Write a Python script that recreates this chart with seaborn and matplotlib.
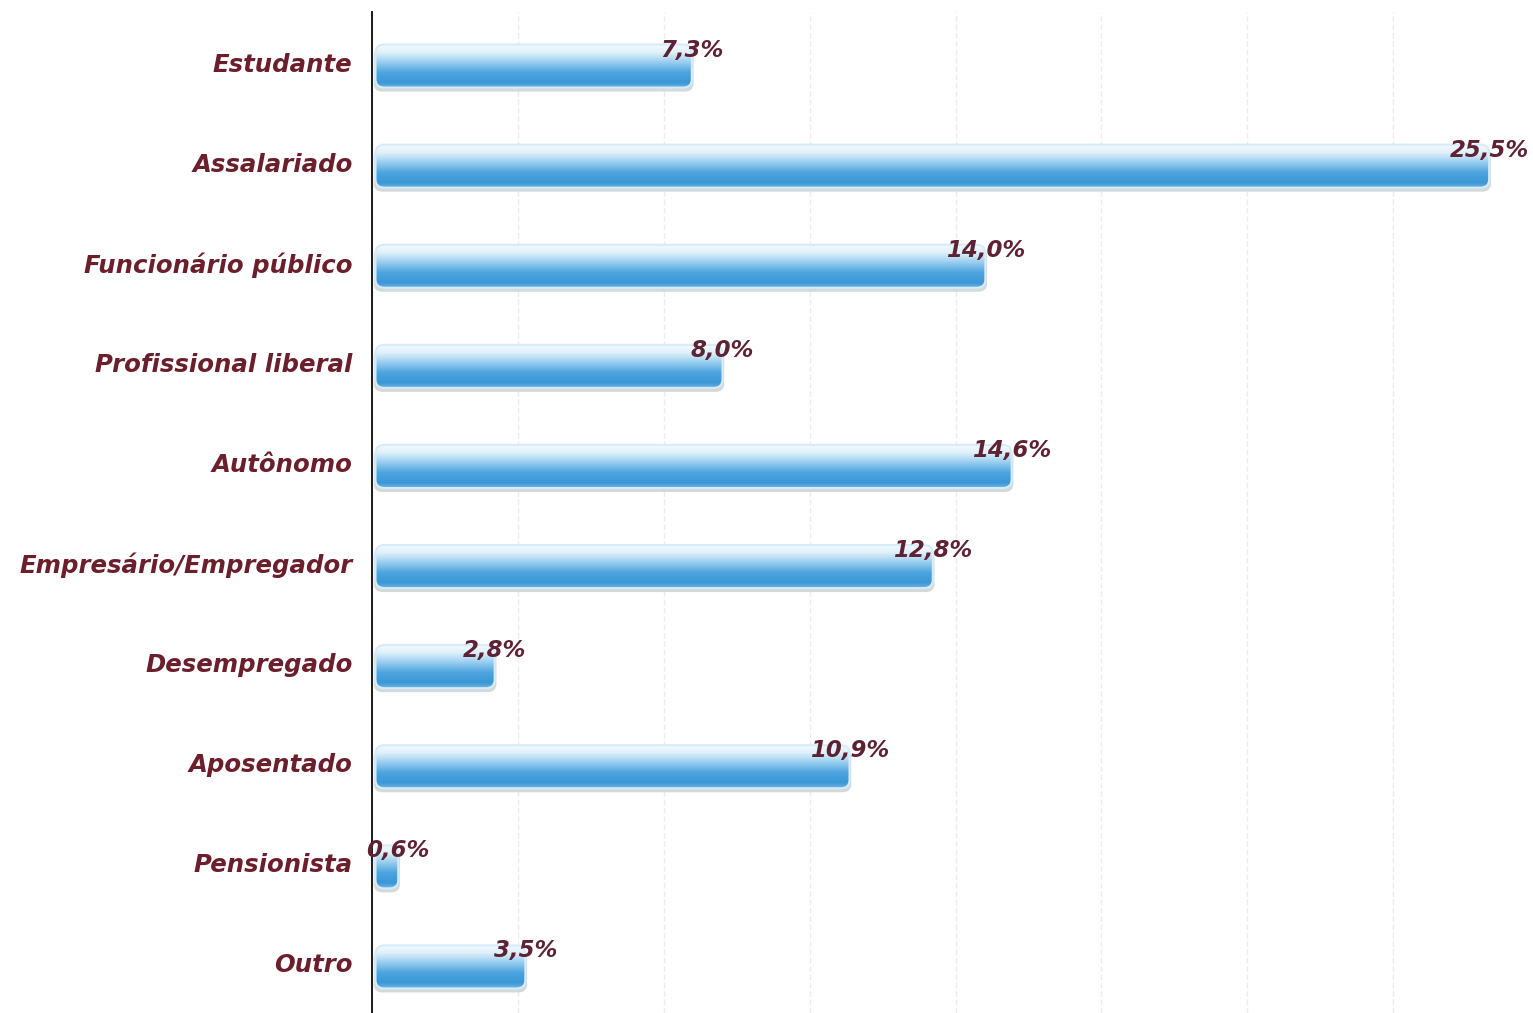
import numpy as np
import pandas as pd
import matplotlib
matplotlib.use("Agg")
import matplotlib.pyplot as plt
import seaborn as sb
from matplotlib.patches import FancyBboxPatch
from matplotlib.colors import LinearSegmentedColormap
from matplotlib.ticker import MultipleLocator, FixedLocator

categorias = ["Estudante", "Assalariado", "Funcionário público", "Profissional liberal",
              "Autônomo", "Empresário/Empregador", "Desempregado", "Aposentado",
              "Pensionista", "Outro"]
percentuais = [7.3, 25.5, 14.0, 8.0, 14.6, 12.8, 2.8, 10.9, 0.6, 3.5]
rotulos = ["7,3%", "25,5%", "14,0%", "8,0%", "14,6%", "12,8%", "2,8%", "10,9%", "0,6%", "3,5%"]

df = pd.DataFrame({"categoria": categorias, "pct": percentuais})

sb.set_style("white")
plt.rcParams['font.family'] = ['DejaVu Sans']

fig = plt.figure(figsize=(15.33, 10.13), dpi=100)
ax = fig.add_axes([372/1533, 0, 1 - 372/1533, 1 - 12/1013])

sb.barplot(data=df, x="pct", y="categoria", orient="h", width=0.43, color="#4aa3df", ax=ax)

# gradient for the bars: light top, blue body, slightly lighter bottom edge
grad = LinearSegmentedColormap.from_list("barra", [
    (0.0, "#f6fbfe"), (0.2, "#dff0fa"), (0.42, "#96cdef"),
    (0.65, "#4da4df"), (0.88, "#3b97d7"), (1.0, "#6fb5e5")])
img = np.linspace(0, 1, 256).reshape(-1, 1)

for p in list(ax.patches):
    x0, y0 = p.get_x(), p.get_y()
    w, h = p.get_width(), p.get_height()
    p.set_visible(False)
    yb = y0 + 0.04
    r = 0.2
    asp = 0.42
    # soft shadow
    sh = FancyBboxPatch((x0 + 0.04, yb + 0.04), w, h,
                        boxstyle=f"round,pad=0,rounding_size={r}", mutation_aspect=asp,
                        fc="#b5c2c6", ec="none", alpha=0.6, zorder=2)
    ax.add_patch(sh)
    bx = FancyBboxPatch((x0 + 0.08, yb), w - 0.08, h,
                        boxstyle=f"round,pad=0,rounding_size={r}", mutation_aspect=asp,
                        fc="none", ec="#d6ecf8", lw=1.5, zorder=4)
    ax.add_patch(bx)
    im = ax.imshow(img, cmap=grad, aspect="auto", extent=(x0, x0 + w, yb + h, yb),
                   origin="upper", zorder=3, interpolation="bicubic")
    im.set_clip_path(bx)

for i, (v, t) in enumerate(zip(percentuais, rotulos)):
    ax.text(v, i - 0.12, t, ha="center", va="center", fontsize=16.5, style="italic",
            fontweight="bold", color="#5e2233", zorder=5)

ax.set_xlim(0, 26.5)
ax.set_ylim(9.5, -0.5)
ax.xaxis.set_major_locator(MultipleLocator(3.33))
ax.grid(axis="x", color="#ececec", lw=1, ls=(0, (4, 2)))
ax.grid(axis="y", visible=False)
ax.set_axisbelow(True)
ax.tick_params(axis="x", bottom=False, labelbottom=False)
ax.tick_params(axis="y", which="major", length=0, pad=14)
ax.yaxis.set_minor_locator(FixedLocator(np.arange(0.5, 9.5, 1)))
ax.tick_params(axis="y", which="minor", length=6, width=1, color="#888888", direction="out")
for lab in ax.get_yticklabels():
    lab.set_fontsize(17.6)
    lab.set_style("italic")
    lab.set_fontweight("bold")
    lab.set_color("#6b1f2c")
ax.set_xlabel("")
ax.set_ylabel("")
for s in ["top", "right", "bottom"]:
    ax.spines[s].set_visible(False)
ax.spines["left"].set_color("#1a1a1a")
ax.spines["left"].set_linewidth(1.4)

fig.savefig("out.png", dpi=100, facecolor="white")
